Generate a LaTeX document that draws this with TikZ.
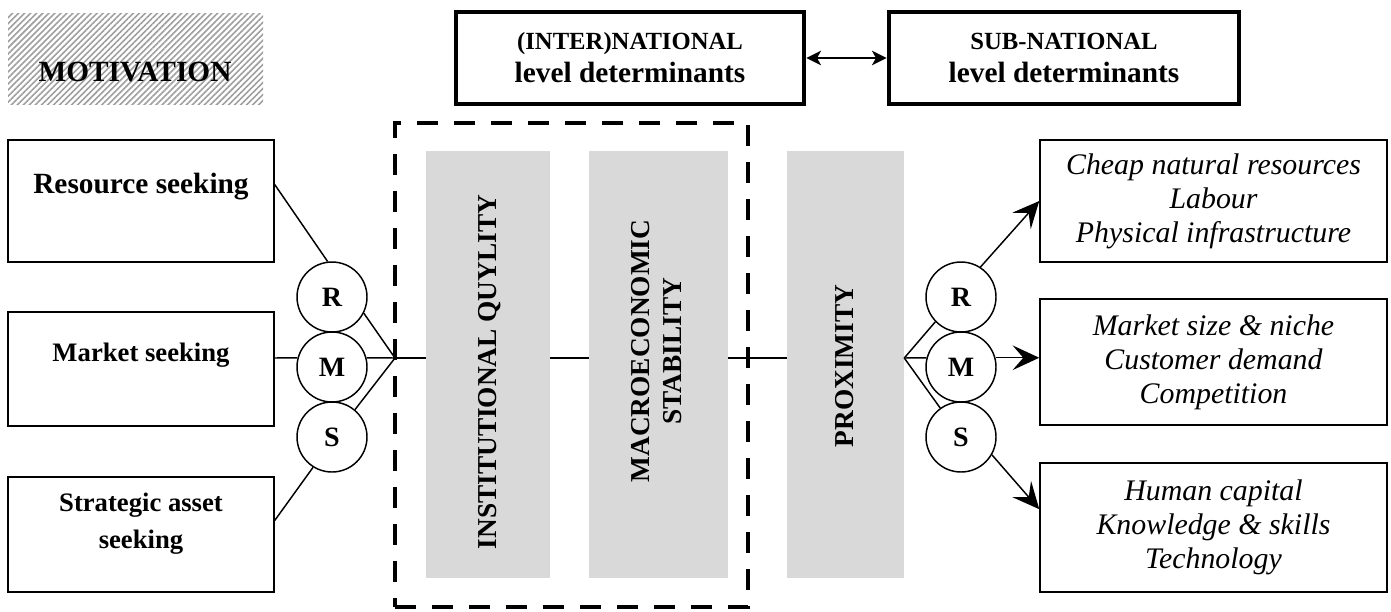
\documentclass[tikz,border=0pt]{standalone}
\usepackage{fontspec}
\setmainfont{Liberation Serif}
\usetikzlibrary{arrows.meta,patterns.meta}

\definecolor{barGray}{RGB}{217,217,217}

\tikzset{
  hatchbox/.style={pattern={Lines[angle=45,distance=3.2pt,line width=1.2pt]}, pattern color=gray!75,
    minimum width=191.25pt, minimum height=68.25pt, inner sep=0pt},
  headtext/.style={font=\fontsize{22}{26}\selectfont\bfseries},
  levelbox/.style={draw, line width=3.6pt, minimum height=69pt, align=center,
    font=\fontsize{22}{24.75}\selectfont\bfseries},
  seekbox/.style={draw, line width=1.1pt, minimum width=199.5pt, inner sep=0pt},
  seektext/.style={align=center, font=\fontsize{20}{27.75}\selectfont\bfseries},
  factorbox/.style={draw, line width=1.1pt, minimum width=260.25pt, align=center,
    font=\fontsize{22.4}{25.5}\selectfont\itshape},
  rmscircle/.style={draw, circle, line width=1.1pt, minimum size=52.5pt, inner sep=0pt,
    font=\fontsize{21}{24}\selectfont\bfseries},
  corebox/.style={draw, line width=3.6pt, dash pattern=on 15.75pt off 12pt,
    minimum width=264.75pt, minimum height=363pt, inner sep=0pt},
  graybar/.style={fill=barGray, minimum height=320.25pt, inner sep=0pt},
  bartext/.style={rotate=90, align=center, font=\fontsize{20.5}{24}\selectfont\bfseries},
  link/.style={line width=1.1pt},
  bigarrow/.style={link, -{Stealth[length=20pt, width=18.5pt, inset=8pt]}},
}

\begin{document}
\begin{tikzpicture}[x=0.75pt, y=-0.75pt]
    \useasboundingbox (0,0) rectangle (1391,611);

    \newcommand*{\xLeftBox}{141}%
    \newcommand*{\xRightBox}{1213.5}%
    \newcommand*{\xLeftRMS}{332}%
    \newcommand*{\xRightRMS}{961}%
    \newcommand*{\yMain}{358}%
    \newcommand*{\yBar}{364.5}%

    % header
    \node[hatchbox] (motiv) at (135.5,58.5) {};
    \node[headtext] (motivtext) at (135,72) {MOTIVATION};

    \node[levelbox, minimum width=261pt] (natl) at (630,58)
      {{\fontsize{18.5}{22}\selectfont (INTER)NATIONAL}\\level determinants};
    \node[levelbox, minimum width=262.5pt] (subnatl) at (1064,58)
      {{\fontsize{18.5}{22}\selectfont SUB-NATIONAL}\\level determinants};
    \draw[link, {Stealth[length=11pt,width=11pt,inset=3pt]}-{Stealth[length=11pt,width=11pt,inset=3pt]}]
      (natl.east) -- (subnatl.west);

    % motives
    \node[seekbox, minimum height=91.5pt] (res) at (\xLeftBox,201) {};
    \node[seekbox, minimum height=85.5pt] (mkt) at (\xLeftBox,369) {};
    \node[seekbox, minimum height=86.25pt] (strat) at (\xLeftBox,534.5) {};
    \node[seektext, font=\fontsize{22}{26}\selectfont\bfseries] (restext) at (\xLeftBox,187) {Resource seeking};
    \node[seektext] (mkttext) at (\xLeftBox,355) {Market seeking};
    \node[seektext] (strattext) at (\xLeftBox,523.5) {Strategic asset\\seeking};

    \foreach \n/\l/\y in {r/R/297, m/M/367, s/S/437} {
      \node[rmscircle] (l\n) at (\xLeftRMS,\y) {\l};
      \node[rmscircle] (r\n) at (\xRightRMS,\y) {\l};
    }

    % determinants
    \node[corebox] (core) at (571.5,365) {};
    \node[graybar, minimum width=93pt] (inst) at (488,\yBar) {};
    \node[graybar, minimum width=104.25pt] (macro) at (658.5,\yBar) {};
    \node[graybar, minimum width=87.75pt] (prox) at (845.5,\yBar) {};
    \node[bartext] (insttext) at (490,372) {INSTITUTIONAL QUYLITY};
    \node[bartext] (macrotext) at (657,351) {MACROECONOMIC\\STABILITY};
    \node[bartext] (proxtext) at (845,366) {PROXIMITY};

    \node[factorbox, minimum height=91.5pt] (rb1) at (\xRightBox,201)
      {Cheap natural resources\\Labour\\Physical infrastructure};
    \node[factorbox, minimum height=94.5pt] (rb2) at (\xRightBox,362)
      {Market size \& niche\\Customer demand\\Competition};
    \node[factorbox, minimum height=96.75pt] (rb3) at (\xRightBox,527.5)
      {Human capital\\Knowledge \& skills\\Technology};

    \coordinate (ljoin) at (395,\yMain);
    \coordinate (rjoin) at (prox.east |- ljoin);

    % left side
    \draw[link] (res.7) -- (lr.97);
    \draw[link] (mkt.east |- ljoin) -- (lm.165);
    \draw[link] (strat.6) -- (ls.238);
    \draw[link] (lr.-27) -- (ljoin);
    \draw[link] (lm.15) -- (ljoin);
    \draw[link] (ls.50) -- (ljoin);
    \draw[link] (ljoin) -- (ljoin -| inst.west);
    \draw[link] (inst.east |- ljoin) -- (macro.west |- ljoin);
    \draw[link] (macro.east |- ljoin) -- (prox.west |- ljoin);

    % right side
    \draw[link] (rjoin) -- (rr.224);
    \draw[link] (rjoin) -- (rm.165);
    \draw[link] (rjoin) -- (rs);
    \draw[bigarrow] (rr.57) -- (rb1.west);
    \draw[bigarrow] (rm.15) -- (rm.15 -| rb2.west);
    \draw[bigarrow] (rs.-30) -- (rb3.174);
\end{tikzpicture}
\end{document}
